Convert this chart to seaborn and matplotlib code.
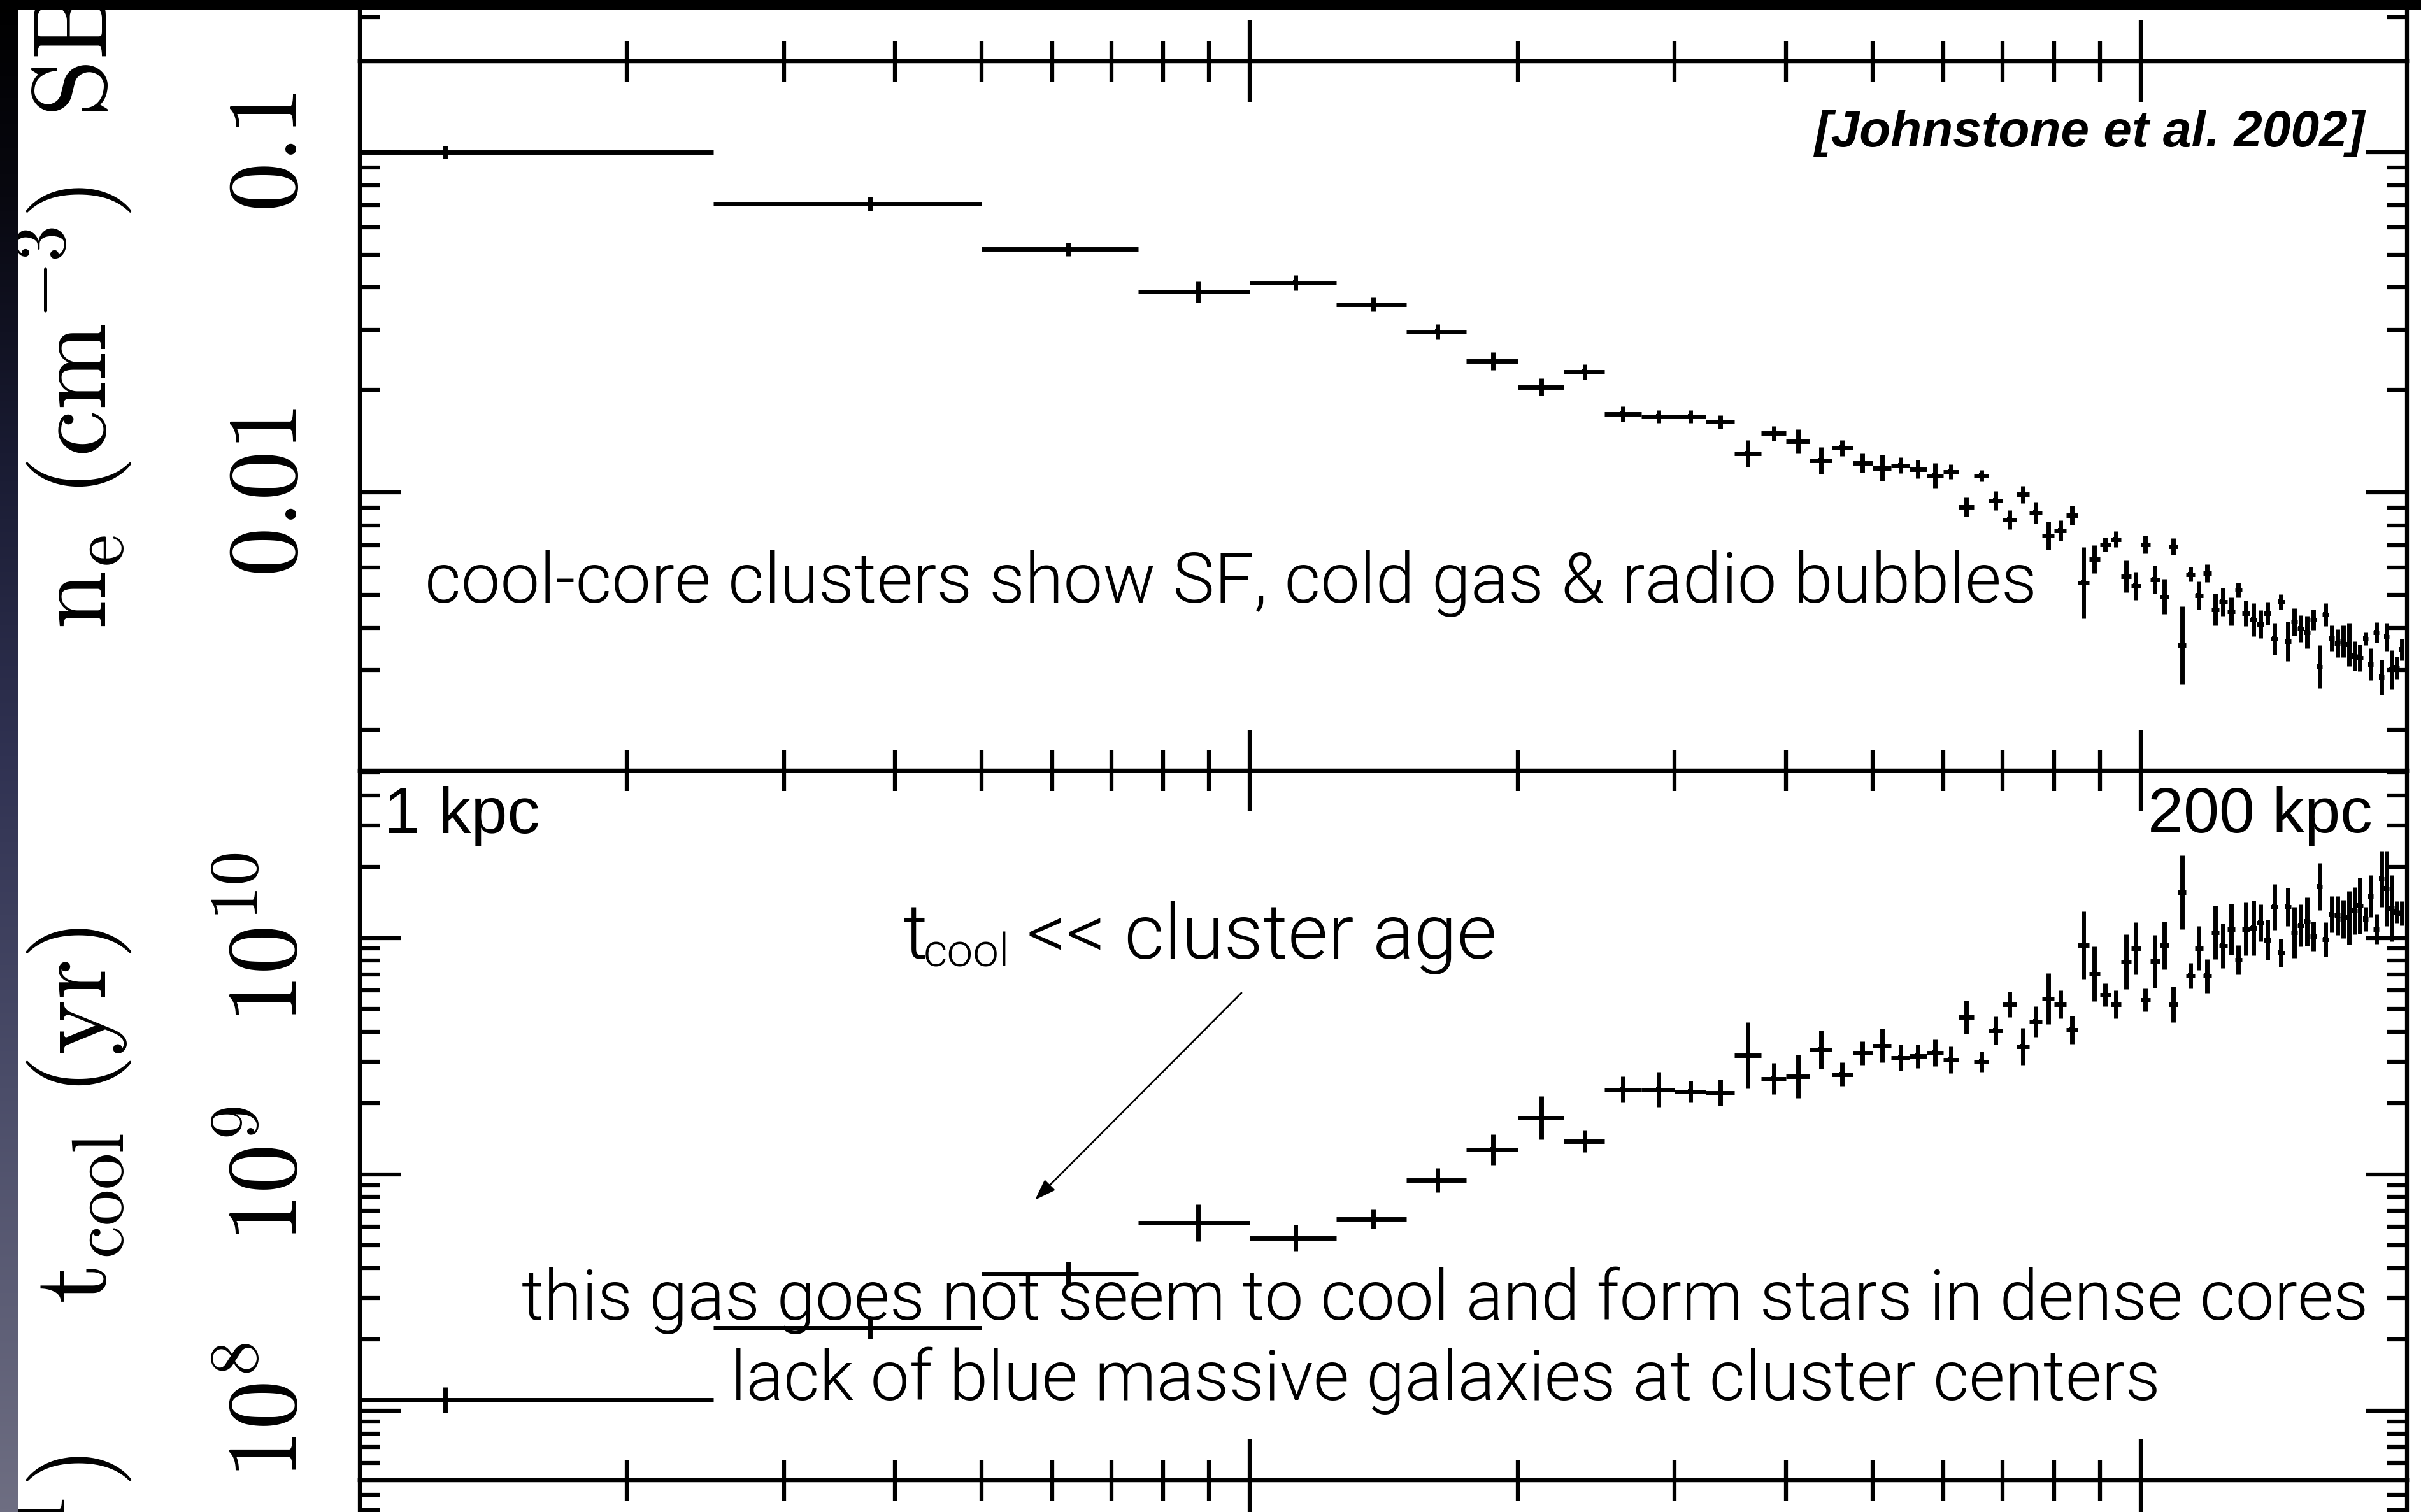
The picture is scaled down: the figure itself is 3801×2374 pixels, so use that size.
import numpy as np
import pandas as pd
import matplotlib
matplotlib.use("Agg")
import matplotlib.pyplot as plt
import seaborn as sns
from matplotlib import font_manager
from matplotlib.patches import Rectangle
from matplotlib.ticker import FixedLocator, FixedFormatter, LogLocator, NullFormatter, NullLocator

# ---------------------------------------------------------------------------
# Deprojected profiles in 2.5 kpc annuli: electron density and cooling time
# ---------------------------------------------------------------------------
r_kpc = [1.25, 3.75, 6.25, 8.75, 11.25, 13.75, 16.25, 18.75, 21.25, 23.75,
         26.25, 28.75, 31.25, 33.75, 36.25, 38.75, 41.25, 43.75, 46.25, 48.75,
         51.25, 53.75, 56.25, 58.75, 61.25, 63.75, 66.25, 68.75, 71.25, 73.75,
         76.25, 78.75, 81.25, 83.75, 86.25, 88.75, 91.25, 93.75, 96.25, 98.75,
         101.25, 103.75, 106.25, 108.75, 111.25, 113.75, 116.25, 118.75, 121.25, 123.75,
         126.25, 128.75, 131.25, 133.75, 136.25, 138.75, 141.25, 143.75, 146.25, 148.75,
         151.25, 153.75, 156.25, 158.75, 161.25, 163.75, 166.25, 168.75, 171.25, 173.75,
         176.25, 178.75, 181.25, 183.75, 186.25, 188.75, 191.25, 193.75, 196.25]
r_half_width = 1.25

ne_cm3 = [0.100, 0.0705, 0.0518, 0.0389, 0.0413, 0.0357, 0.0296, 0.0243, 0.0204, 0.0226,
          0.0170, 0.0167, 0.0167, 0.0161, 0.0130, 0.0149, 0.0141, 0.0124, 0.0135, 0.0122,
          0.0118, 0.0120, 0.0117, 0.0112, 0.0115, 0.00906, 0.0112, 0.00946, 0.00831, 0.00985,
          0.00871, 0.00746, 0.00772, 0.00856, 0.00542, 0.00636, 0.00702, 0.00728, 0.00566, 0.00531,
          0.00702, 0.00554, 0.00494, 0.00693, 0.00355, 0.00574, 0.00497, 0.00578, 0.00453, 0.00476,
          0.00447, 0.00516, 0.00441, 0.00422, 0.00410, 0.00441, 0.00371, 0.00476, 0.00365, 0.00416,
          0.00398, 0.00388, 0.00422, 0.00307, 0.00437, 0.00373, 0.00360, 0.00365, 0.00357, 0.00330,
          0.00326, 0.00371, 0.00312, 0.00388, 0.00286, 0.00376, 0.00301, 0.00305, 0.00345]
ne_err_dex = [0.019, 0.021, 0.019, 0.032, 0.022, 0.021, 0.022, 0.026, 0.026, 0.022,
              0.022, 0.019, 0.019, 0.019, 0.039, 0.021, 0.036, 0.039, 0.024, 0.028,
              0.039, 0.024, 0.028, 0.036, 0.021, 0.028, 0.017, 0.028, 0.028, 0.026,
              0.032, 0.041, 0.030, 0.028, 0.105, 0.041, 0.021, 0.024, 0.047, 0.041,
              0.026, 0.041, 0.051, 0.024, 0.114, 0.022, 0.041, 0.026, 0.047, 0.041,
              0.041, 0.022, 0.037, 0.049, 0.041, 0.034, 0.047, 0.022, 0.058, 0.041,
              0.039, 0.047, 0.030, 0.064, 0.034, 0.037, 0.041, 0.047, 0.064, 0.043,
              0.039, 0.019, 0.047, 0.030, 0.051, 0.041, 0.058, 0.032, 0.032]

tcool_yr = [1.11e8, 2.23e8, 3.79e8, 6.22e8, 5.37e8, 6.46e8, 9.43e8, 1.27e9, 1.73e9, 1.38e9,
            2.28e9, 2.28e9, 2.24e9, 2.21e9, 3.19e9, 2.53e9, 2.59e9, 3.37e9, 2.65e9, 3.26e9,
            3.50e9, 3.11e9, 3.16e9, 3.26e9, 3.05e9, 4.62e9, 2.99e9, 4.05e9, 5.23e9, 3.47e9,
            4.42e9, 5.54e9, 5.23e9, 4.08e9, 9.31e9, 7.04e9, 5.74e9, 5.23e9, 7.92e9, 9.03e9,
            5.47e9, 7.95e9, 9.31e9, 5.23e9, 1.56e10, 6.90e9, 9.03e9, 6.90e9, 1.054e10, 9.25e9,
            1.09e10, 8.07e9, 1.09e10, 1.10e10, 1.157e10, 9.80e9, 1.351e10, 8.66e9, 1.351e10, 1.054e10,
            1.129e10, 1.171e10, 1.016e10, 1.652e10, 9.85e9, 1.257e10, 1.243e10, 1.201e10, 1.216e10, 1.302e10,
            1.368e10, 1.201e10, 1.502e10, 1.09e10, 1.776e10, 1.618e10, 1.335e10, 1.286e10, 1.27e10]
tcool_err_dex = [0.054, 0.046, 0.051, 0.078, 0.055, 0.041, 0.051, 0.065, 0.092, 0.046,
                 0.055, 0.074, 0.046, 0.055, 0.140, 0.066, 0.091, 0.081, 0.050, 0.050,
                 0.071, 0.056, 0.050, 0.056, 0.056, 0.071, 0.044, 0.059, 0.054, 0.077,
                 0.064, 0.108, 0.059, 0.059, 0.142, 0.116, 0.049, 0.059, 0.116, 0.111,
                 0.049, 0.113, 0.101, 0.075, 0.157, 0.054, 0.093, 0.072, 0.113, 0.095,
                 0.108, 0.062, 0.111, 0.116, 0.077, 0.085, 0.098, 0.059, 0.080, 0.108,
                 0.090, 0.103, 0.062, 0.100, 0.072, 0.077, 0.082, 0.082, 0.113, 0.100,
                 0.119, 0.052, 0.090, 0.064, 0.119, 0.160, 0.140, 0.047, 0.052]

ne_ticks = [0.01, 0.1]
ne_ticklabels = [r"$0.01$", r"$0.1$"]
tcool_ticks = [1e8, 1e9, 1e10]
tcool_ticklabels = [r"$10^8$", r"$10^9$", r"$10^{10}$"]

# ---------------------------------------------------------------------------
# Canvas geometry (pixels)
# ---------------------------------------------------------------------------
W, H, DPI = 3801, 2374, 100
AX_L, AX_R = 565, 3779
Y_TOP, Y_MID, Y_BOT = 95.7, 1210, 2324
XLIM = (1.003, 199.0)
NE_LIM = (0.00152, 0.1853)
TC_LIM = (5.07e7, 5.10e10)

SPINE_LW = 4.5
DATA_LW = 5.0
MAJ_LEN, MIN_LEN = 46, 23
TICK_FS = 112
LABEL_FS = 118
LABEL_BASE_X = 166
TICK_PAD_PX = 66

sns.set_theme(style="ticks", rc={"axes.edgecolor": "black", "text.color": "black",
                                 "xtick.color": "black", "ytick.color": "black"})
plt.rcParams["font.family"] = ["DejaVu Sans"]
plt.rcParams["mathtext.fontset"] = "cm"


def pick_light_family():
    avail = {}
    for fe in font_manager.fontManager.ttflist:
        w = fe.weight
        if isinstance(w, str):
            w = font_manager.weight_dict.get(w, 400)
        avail.setdefault(fe.name, set()).add(int(w))
    for name in ["Roboto", "Inter", "Lato", "Open Sans", "Noto Sans"]:
        if any(w <= 300 for w in avail.get(name, ())):
            return name, 300
        for alt in (name + " Light", name + " Light Regular"):
            if alt in avail:
                return alt, "normal"
    return "Liberation Sans", "normal"


LIGHT_FAMILY, LIGHT_WEIGHT = pick_light_family()

fig = plt.figure(figsize=(W / DPI, H / DPI), dpi=DPI)
fig.patch.set_facecolor("white")


def px_box(x0, y0, x1, y1):
    return [x0 / W, 1 - y1 / H, (x1 - x0) / W, (y1 - y0) / H]


ax_sb = fig.add_axes(px_box(AX_L, Y_TOP - 1000, AX_R, Y_TOP))
ax_ne = fig.add_axes(px_box(AX_L, Y_TOP, AX_R, Y_MID))
ax_tc = fig.add_axes(px_box(AX_L, Y_MID, AX_R, Y_BOT))
ax_lo = fig.add_axes(px_box(AX_L, Y_BOT, AX_R, Y_BOT + 1000))

# ---------------------------------------------------------------------------
# Data
# ---------------------------------------------------------------------------
df = pd.DataFrame({"r_kpc": r_kpc, "ne": ne_cm3, "ne_dex": ne_err_dex,
                   "tcool": tcool_yr, "tc_dex": tcool_err_dex})
ne_lo = df["ne"] * (1 - 10 ** (-df["ne_dex"]))
ne_hi = df["ne"] * (10 ** df["ne_dex"] - 1)
tc_lo = df["tcool"] * (1 - 10 ** (-df["tc_dex"]))
tc_hi = df["tcool"] * (10 ** df["tc_dex"] - 1)

for ax in (ax_sb, ax_ne, ax_tc, ax_lo):
    ax.set_xscale("log")

ax_ne.set_yscale("log")
ax_tc.set_yscale("log")

ax_ne.errorbar(df["r_kpc"], df["ne"], xerr=r_half_width, yerr=[ne_lo, ne_hi],
               fmt="none", ecolor="black", elinewidth=DATA_LW, capsize=0, zorder=3)
sns.scatterplot(data=df, x="r_kpc", y="ne", ax=ax_ne, marker="s", s=34,
                color="black", linewidth=0, legend=False, zorder=4)

ax_tc.errorbar(df["r_kpc"], df["tcool"], xerr=r_half_width, yerr=[tc_lo, tc_hi],
               fmt="none", ecolor="black", elinewidth=DATA_LW, capsize=0, zorder=3)
sns.scatterplot(data=df, x="r_kpc", y="tcool", ax=ax_tc, marker="s", s=34,
                color="black", linewidth=0, legend=False, zorder=4)

# ---------------------------------------------------------------------------
# Axes styling: boxed panels, inward ticks on all sides
# ---------------------------------------------------------------------------
for ax in (ax_sb, ax_ne, ax_tc, ax_lo):
    ax.set_facecolor("none")
    ax.set_xlim(*XLIM)
    ax.set_xlabel("")
    ax.set_ylabel("")
    ax.grid(False)
    ax.xaxis.set_major_locator(FixedLocator([10, 100]))
    ax.xaxis.set_minor_locator(LogLocator(base=10, subs=np.arange(2, 10)))
    ax.xaxis.set_major_formatter(NullFormatter())
    ax.xaxis.set_minor_formatter(NullFormatter())
    for sp in ax.spines.values():
        sp.set_visible(True)
        sp.set_linewidth(SPINE_LW)
        sp.set_color("black")
    ax.tick_params(which="both", direction="in", top=True, bottom=True, left=True,
                   right=True, width=SPINE_LW, color="black", labelbottom=False,
                   labeltop=False, labelleft=False, labelright=False)
    ax.tick_params(which="major", length=MAJ_LEN)
    ax.tick_params(which="minor", length=MIN_LEN)

ax_ne.set_ylim(*NE_LIM)
ax_ne.yaxis.set_major_locator(FixedLocator(ne_ticks))
ax_ne.yaxis.set_major_formatter(FixedFormatter(ne_ticklabels))
ax_ne.yaxis.set_minor_locator(LogLocator(base=10, subs=np.arange(2, 10)))
ax_ne.yaxis.set_minor_formatter(NullFormatter())

ax_tc.set_ylim(*TC_LIM)
ax_tc.yaxis.set_major_locator(FixedLocator(tcool_ticks))
ax_tc.yaxis.set_major_formatter(FixedFormatter(tcool_ticklabels))
ax_tc.yaxis.set_minor_locator(LogLocator(base=10, subs=np.arange(2, 10)))
ax_tc.yaxis.set_minor_formatter(NullFormatter())

for ax in (ax_ne, ax_tc):
    ax.tick_params(axis="y", which="major", labelleft=True, labelrotation=90,
                   labelsize=TICK_FS, pad=TICK_PAD_PX * 72 / DPI)
    for lab in ax.get_yticklabels():
        lab.set_verticalalignment("center")

# neighbouring panels, mostly outside the canvas
ax_sb.set_ylim(0, 1)
ax_sb.yaxis.set_major_locator(NullLocator())
ax_sb.yaxis.set_minor_locator(FixedLocator([(Y_TOP - 27) / 1000]))
ax_lo.set_ylim(0, 1)
ax_lo.yaxis.set_major_locator(NullLocator())
ax_lo.yaxis.set_minor_locator(FixedLocator([(Y_BOT + 1000 - 2347) / 1000,
                                            (Y_BOT + 1000 - 2371) / 1000]))

# ---------------------------------------------------------------------------
# Rotated axis labels
# ---------------------------------------------------------------------------
def vlabel(y, s, ha):
    fig.text(LABEL_BASE_X / W, 1 - y / H, s, rotation=90, rotation_mode="anchor",
             ha=ha, va="baseline", fontsize=LABEL_FS, color="black", zorder=5)


vlabel(640, r"$\mathrm{n_e\ (cm^{-3})}$", "center")
vlabel(184, r"$\mathrm{SB}$", "left")
vlabel(1752, r"$\mathrm{t_{cool}\ (yr)}$", "center")
vlabel(2285, r"$\mathrm{(erg\ s^{-1})}$", "right")

# ---------------------------------------------------------------------------
# Annotations
# ---------------------------------------------------------------------------
renderer = fig.canvas.get_renderer()


def fit_text(s, x0, x1, y_base, family, weight="normal", style="normal", size0=60):
    t = fig.text(x0 / W, 1 - y_base / H, s, ha="left", va="baseline", fontsize=size0,
                 family=family, weight=weight, style=style, color="black", zorder=20)
    w = t.get_window_extent(renderer).width
    t.set_fontsize(size0 * (x1 - x0) / w)
    return t


fit_text("[Johnstone et al. 2002]", 2848, 3712, 230, "Liberation Sans",
         weight="bold", style="italic")
fit_text("cool-core clusters show SF, cold gas & radio bubbles", 667, 3200, 946,
         LIGHT_FAMILY, weight=LIGHT_WEIGHT)
fit_text("1 kpc", 603, 848, 1308, "Liberation Sans")
fit_text("200 kpc", 3372, 3725, 1307, "Liberation Sans")

main = fit_text("<< cluster age", 1612, 2351, 1505, LIGHT_FAMILY, weight=LIGHT_WEIGHT)
fs = main.get_fontsize()
fig.text(1418 / W, 1 - 1505 / H, "t", ha="left", va="baseline", fontsize=fs,
         family=LIGHT_FAMILY, weight=LIGHT_WEIGHT, color="black", zorder=20)
fig.text(1450 / W, 1 - 1518 / H, "cool", ha="left", va="baseline", fontsize=fs * 0.6,
         family=LIGHT_FAMILY, weight=LIGHT_WEIGHT, color="black", zorder=20)

fit_text("this gas goes not seem to cool and form stars in dense cores", 819, 3721, 2072,
         LIGHT_FAMILY, weight=LIGHT_WEIGHT)
fit_text("lack of blue massive galaxies at cluster centers", 1147, 3394, 2198,
         LIGHT_FAMILY, weight=LIGHT_WEIGHT)

fig.add_artist(matplotlib.patches.FancyArrowPatch(
    (1951 / W, 1 - 1557 / H), (1623 / W, 1 - 1886 / H), transform=fig.transFigure,
    arrowstyle="-|>,head_length=1.0,head_width=0.35", mutation_scale=20,
    lw=2.0, color="black", zorder=20))

# ---------------------------------------------------------------------------
# Slide frame: dark gradient strip on the left, black band on top
# ---------------------------------------------------------------------------
strip = fig.add_axes([0, 0, 28 / W, 1], zorder=50)
stops_y = np.array([0.0, 0.13, 0.3, 0.5, 0.72, 1.0])
stops_c = np.array([[0, 0, 0], [8, 8, 16], [25, 27, 50], [48, 50, 82],
                    [75, 77, 105], [110, 110, 130]]) / 255.0
yy = np.linspace(0, 1, 600)
grad = np.stack([np.interp(yy, stops_y, stops_c[:, k]) for k in range(3)], axis=-1)
strip.imshow(grad[:, None, :], aspect="auto", extent=[0, 1, 1, 0])
strip.set_xlim(0, 1)
strip.set_ylim(1, 0)
strip.axis("off")

fig.add_artist(Rectangle((0, 1 - 15 / H), 1, 15 / H, transform=fig.transFigure,
                         facecolor="black", edgecolor="none", zorder=60))

fig.savefig("out.png", dpi=DPI, facecolor="white")
